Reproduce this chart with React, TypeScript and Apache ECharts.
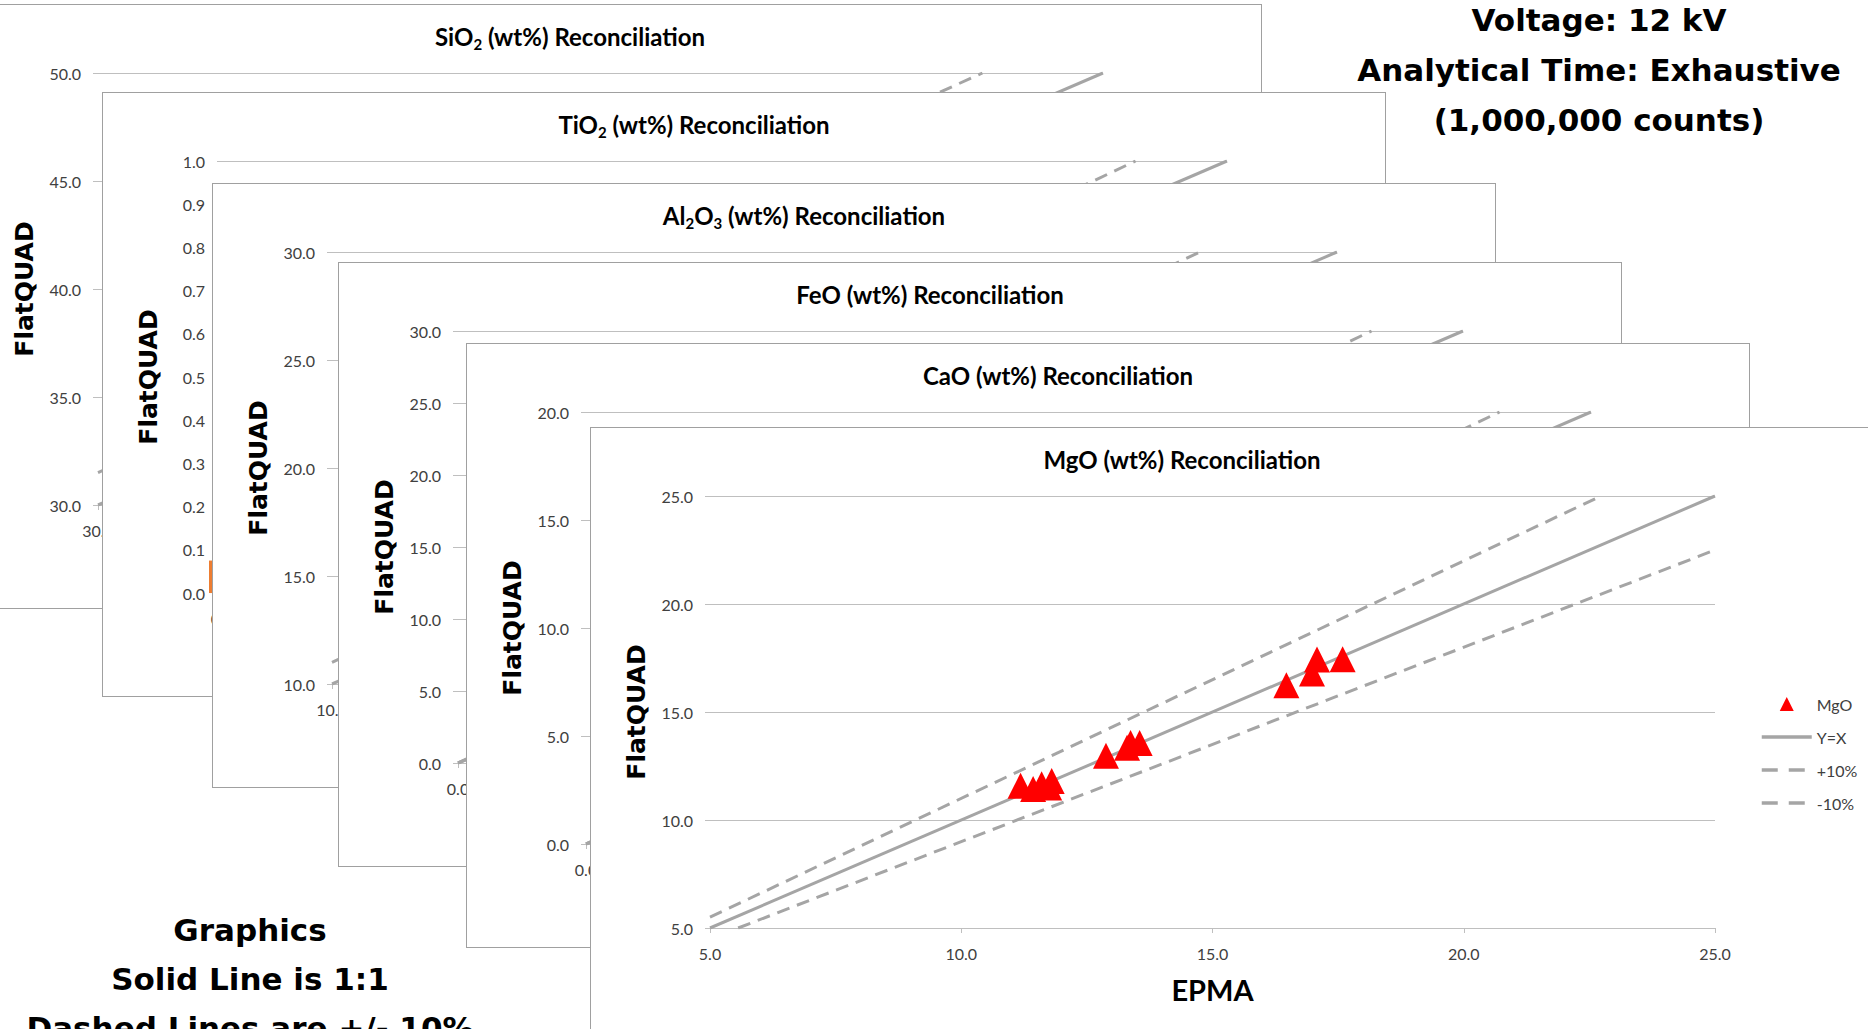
import React, { useEffect, useRef } from "react";
import * as echarts from "echarts";

// ---------------- data ----------------
const chartTitles: string[][] = [
  ["SiO", "2", " (wt%) Reconciliation"],
  ["TiO", "2", " (wt%) Reconciliation"],
  ["Al", "2", "O", "3", " (wt%) Reconciliation"],
  ["FeO (wt%) Reconciliation"],
  ["CaO (wt%) Reconciliation"],
  ["MgO (wt%) Reconciliation"],
];
const axisMin = [30, 0, 10, 0, 0, 5];
const axisMax = [50, 1, 30, 30, 20, 25];
const axisStep = [5, 0.1, 5, 5, 5, 5];

const sio2OneToOne = [[30, 30], [50, 50]];
const sio2Plus = [[30, 31.5], [47.6, 50]];
const sio2Minus = [[31.6, 30], [50, 47.5]];
const tio2OneToOne = [[0, 0], [1, 1]];
const tio2Plus = [[0, 0], [0.909, 1]];
const tio2Minus = [[0, 0], [1, 0.9]];
const al2o3OneToOne = [[10, 10], [30, 30]];
const al2o3Plus = [[10, 11], [27.27, 30]];
const al2o3Minus = [[11.11, 10], [30, 27]];
const feoOneToOne = [[0, 0], [30, 30]];
const feoPlus = [[0, 0], [27.27, 30]];
const feoMinus = [[0, 0], [30, 27]];
const caoOneToOne = [[0, 0], [20, 20]];
const caoPlus = [[0, 0], [18.18, 20]];
const caoMinus = [[0, 0], [20, 18]];
const mgoOneToOne = [[5, 5], [25, 25]];
const mgoPlus = [[5, 5.5], [22.73, 25]];
const mgoMinus = [[5.56, 5], [25, 22.5]];

const tio2Epma = [0.0, 0.0];
const tio2Flatquad = [0.03, 0.045];

const mgoEpma = [11.18, 11.43, 11.6, 11.75, 11.8, 12.88, 13.3, 13.37, 13.55, 16.47, 16.98, 17.08, 17.59];
const mgoFlatquad = [11.58, 11.44, 11.65, 11.51, 11.81, 12.97, 13.35, 13.56, 13.56, 16.24, 16.78, 17.43, 17.44];

const legendNames = ["MgO", "Y=X", "+10%", "-10%"];
const pointNames = ["SiO2", "TiO2", "Al2O3", "FeO", "CaO", "MgO"];

const headerLines = ["Voltage: 12 kV", "Analytical Time: Exhaustive", "(1,000,000 counts)"];
const noteLines = ["Graphics", "Solid Line is 1:1", "Dashed Lines are +/- 10%"];

// ---------------- layout ----------------
const PAGE_W = 1868;
const PAGE_H = 1029;
const CARD_W = 1284;
const CARD_H = 605;
const cardLeft = [-22, 102, 212, 338, 466, 590];
const cardTop = [4, 92, 183, 262, 343, 427];

const GRAY = "#a5a5a5";
const AXIS_GRAY = "#bfbfbf";
const LABEL = "#404040";
const DASH = [13, 8];

const oneToOne = [sio2OneToOne, tio2OneToOne, al2o3OneToOne, feoOneToOne, caoOneToOne, mgoOneToOne];
const plusLines = [sio2Plus, tio2Plus, al2o3Plus, feoPlus, caoPlus, mgoPlus];
const minusLines = [sio2Minus, tio2Minus, al2o3Minus, feoMinus, caoMinus, mgoMinus];

function zip(a: number[], b: number[]) {
  return a.map((v, k) => [v, b[k]]);
}

function buildOption(i: number): any {
  const front = i === 5;
  const min = axisMin[i];
  const max = axisMax[i];
  const step = axisStep[i];
  const fmt = (v: number) => v.toFixed(1);
  const parts = chartTitles[i];
  const titleText = parts.map((p, k) => (k % 2 ? `{s|${p}}` : `{m|${p}}`)).join("");

  const series: any[] = [
    {
      type: "line", name: "Y=X", data: oneToOne[i], symbol: "none", z: 2, silent: true,
      itemStyle: { color: GRAY },
      lineStyle: { color: GRAY, width: 3 },
    },
    {
      type: "line", name: "+10%", data: plusLines[i], symbol: "none", z: 2, silent: true,
      itemStyle: { color: GRAY },
      lineStyle: { color: GRAY, width: 3, type: DASH },
    },
    {
      type: "line", name: "-10%", data: minusLines[i], symbol: "none", z: 2, silent: true,
      itemStyle: { color: GRAY },
      lineStyle: { color: GRAY, width: 3, type: DASH },
    },
  ];
  if (i === 1) {
    series.push({
      type: "scatter", name: pointNames[i], data: zip(tio2Epma, tio2Flatquad), symbol: "rect",
      symbolSize: 26, itemStyle: { color: "#ed7d31", opacity: 1 }, z: 3, silent: true,
    });
  }
  if (front) {
    series.push({
      type: "scatter", name: "MgO", data: zip(mgoEpma, mgoFlatquad), symbol: "triangle",
      symbolSize: 26, itemStyle: { color: "#ff0000", opacity: 1 }, z: 3, silent: true,
    });
  }

  const legendData = legendNames.map((n, k) =>
    k === 0
      ? { name: n, icon: "path://M5,0L10,10L0,10Z", itemStyle: { opacity: 1 } }
      : {
          name: n,
          itemStyle: { opacity: 0 },
          lineStyle: k === 1 ? { width: 3.5, color: GRAY } : { width: 3.5, color: GRAY, type: [16, 11] },
        }
  );

  return {
    animation: false,
    backgroundColor: "#ffffff",
    grid: { left: 119, top: 68, width: 1005, height: 432, containLabel: false },
    xAxis: {
      type: "value", min, max, interval: step,
      axisLine: { show: true, onZero: false, lineStyle: { color: AXIS_GRAY, width: 1 } },
      axisTick: { show: true, length: 5, inside: false, lineStyle: { color: AXIS_GRAY } },
      splitLine: { show: false },
      axisLabel: {
        formatter: (v: number) => (front || Math.abs(v - min) < 1e-9 ? fmt(v) : ""),
        color: LABEL, fontFamily: "Lato", fontSize: 16, margin: 17,
      },
      name: front ? "EPMA" : "",
      nameLocation: "middle", nameGap: 47,
      nameTextStyle: { fontFamily: "Lato", fontWeight: "bold", fontSize: 29, color: "#000" },
    },
    yAxis: {
      type: "value", min, max, interval: step,
      axisLine: { show: false },
      axisTick: { show: true, length: 5, lineStyle: { color: AXIS_GRAY } },
      splitLine: { show: true, lineStyle: { color: AXIS_GRAY, width: 1 } },
      axisLabel: { formatter: fmt, color: LABEL, fontFamily: "Lato", fontSize: 16, margin: 17 },
      name: "FlatQUAD", nameLocation: "middle", nameGap: 61,
      nameTextStyle: { fontFamily: "DejaVu Sans", fontWeight: "bold", fontSize: 25, color: "#000" },
    },
    legend: front
      ? {
          data: legendData, orient: "vertical", left: 1164, top: 263,
          itemWidth: 50, itemHeight: 14, itemGap: 17, symbolKeepAspect: true,
          textStyle: { color: LABEL, fontFamily: "Lato", fontSize: 16 },
          selectedMode: false,
        }
      : { show: false },
    graphic: [
      {
        type: "text", x: 591, y: 31, silent: true,
        style: {
          text: titleText,
          align: "center", verticalAlign: "middle", textAlign: "center", textVerticalAlign: "middle",
          rich: {
            m: { fontFamily: "Lato", fontWeight: "bold", fontSize: 24, fill: "#000", color: "#000", lineHeight: 30 },
            s: { fontFamily: "Lato", fontWeight: "bold", fontSize: 15, fill: "#000", color: "#000", lineHeight: 16, verticalAlign: "bottom" },
          },
        },
      },
    ],
    series,
  };
}

function Card({ index }: { index: number }) {
  const ref = useRef<HTMLDivElement>(null);
  useEffect(() => {
    const chart = echarts.init(ref.current as HTMLDivElement, null, { renderer: "svg" });
    chart.setOption(buildOption(index));
    return () => chart.dispose();
  }, [index]);
  return (
    <div
      style={{
        position: "absolute", left: cardLeft[index], top: cardTop[index],
        width: CARD_W, height: CARD_H, boxSizing: "border-box",
        border: "1px solid #a0a0a0", background: "#fff", zIndex: index + 1,
      }}
    >
      <div ref={ref} style={{ width: "100%", height: "100%" }} />
    </div>
  );
}

function Notes() {
  const ref = useRef<HTMLDivElement>(null);
  useEffect(() => {
    const chart = echarts.init(ref.current as HTMLDivElement, null, { renderer: "svg" });
    const txt = (t: string, x: number, y: number) => ({
      type: "text", x, y, silent: true,
      style: {
        text: t, fill: "#000", fontFamily: "DejaVu Sans", fontWeight: "bold", fontSize: 31,
        align: "center", verticalAlign: "middle", textAlign: "center", textVerticalAlign: "middle",
      },
    });
    chart.setOption({
      animation: false,
      graphic: [
        ...headerLines.map((t, k) => txt(t, 1599, 20 + k * 50)),
        ...noteLines.map((t, k) => txt(t, 250, 930 + k * 49)),
      ],
    });
    return () => chart.dispose();
  }, []);
  return <div ref={ref} style={{ position: "absolute", left: 0, top: 0, width: PAGE_W, height: PAGE_H, zIndex: 0 }} />;
}

export default function App() {
  return (
    <div
      style={{
        position: "fixed", left: 0, top: 0, width: PAGE_W, height: PAGE_H,
        overflow: "hidden", background: "#fff",
      }}
    >
      <Notes />
      {[0, 1, 2, 3, 4, 5].map((i) => (
        <Card key={i} index={i} />
      ))}
    </div>
  );
}
